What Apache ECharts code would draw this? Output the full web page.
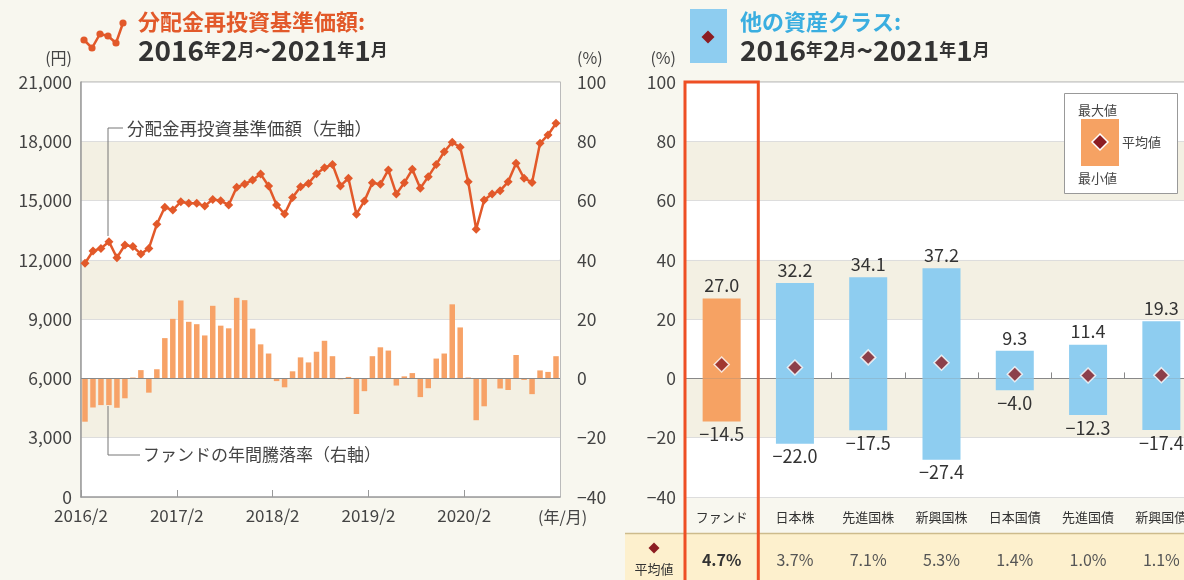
<!DOCTYPE html>
<html><head><meta charset="utf-8">
<script src="https://cdn.jsdelivr.net/npm/echarts@6/dist/echarts.min.js"></script>
<style>html,body{margin:0;padding:0;background:#f8f7ef;}#c{width:1184px;height:580px;}</style>
</head><body><div id="c"></div>
<script>
const FONT = "'Noto Sans CJK JP','Noto Sans',sans-serif";

// ---- Left chart data ----
const navValues = [
  11830, 12450, 12580, 12920, 12110, 12750, 12670, 12300, 12580, 13800,
  14660, 14520, 14940, 14860, 14860, 14730, 15060, 14990, 14780, 15670,
  15840, 16040, 16340, 15740, 14780, 14320, 15160, 15700, 15870, 16360,
  16660, 16830, 15740, 16130, 14310, 14980, 15900, 15820, 16550, 15330,
  15900, 16580, 15620, 16210, 16830, 17470, 17950, 17700, 15950, 13550,
  15030, 15330, 15500, 15950, 16890, 16130, 15920, 17900, 18320, 18910
];
const annualReturns = [
  -14.6, -9.8, -9.0, -9.0, -9.9, -6.7, 0.3, 2.8, -4.8, 3.1,
  13.6, 20.1, 26.3, 19.1, 18.3, 14.5, 24.5, 17.8, 16.9, 27.2,
  26.4, 16.8, 11.5, 8.4, -0.9, -3.0, 2.4, 7.1, 5.4, 9.0,
  12.7, 7.5, -0.3, 0.5, -12.0, -4.3, 7.5, 10.5, 9.4, -2.4,
  0.7, 1.8, -6.3, -3.3, 6.7, 8.4, 25.0, 17.2, 0.3, -14.1,
  -9.4, 0.0, -3.4, -3.9, 7.9, -0.5, -5.3, 2.7, 2.2, 7.5
];
const xTickLabels = ['2016/2', '2017/2', '2018/2', '2019/2', '2020/2'];

// ---- Right chart data ----
const assetClasses = ['ファンド', '日本株', '先進国株', '新興国株', '日本国債', '先進国債', '新興国債'];
const maxValues = [27.0, 32.2, 34.1, 37.2, 9.3, 11.4, 19.3];
const minValues = [-14.5, -22.0, -17.5, -27.4, -4.0, -12.3, -17.4];
const avgValues = [4.7, 3.7, 7.1, 5.3, 1.4, 1.0, 1.1];

const months = [];
{ let yy = 2016, mm = 2; for (let i = 0; i < navValues.length; i++) { months.push(yy + '/' + mm); mm++; if (mm > 12) { mm = 1; yy++; } } }

const minus = v => (v < 0 ? '−' : '') + Math.abs(v);
const fmt1 = v => (v < 0 ? '−' : '') + Math.abs(v).toFixed(1);
const BAND = '#f3f0e3';
const ORANGE_BAR = '#f7a267';
const BLUE_BAR = '#8ecdf0';
const LINE_COL = '#e2592a';
const DIA = '#8c1d22';

const chart = echarts.init(document.getElementById('c'), null, { renderer: 'canvas' });

function diamondPts(cx, cy, r) { return [[cx, cy - r], [cx + r, cy], [cx, cy + r], [cx - r, cy]]; }

const iconPts = [[84, 40], [92, 48], [100, 34], [108, 36], [116, 43], [123, 23]];

const titleRich = {
  d: { fontSize: 28, fontWeight: 'bold', fill: '#333', fontFamily: FONT },
  s: { fontSize: 17, fontWeight: 'bold', fill: '#333', fontFamily: FONT }
};
const titleText = '{d|2016}{s|年}{d|2}{s|月}{d|~2021}{s|年}{d|1}{s|月}';

const baseGraphic = [
  { type: 'polyline', shape: { points: iconPts }, style: { stroke: LINE_COL, lineWidth: 2.5, fill: null }, z: 10 },
  ...iconPts.map(p => ({ type: 'circle', shape: { cx: p[0], cy: p[1], r: 3.6 }, style: { fill: LINE_COL }, z: 10 })),
  { type: 'text', x: 138, y: 22, style: { text: '分配金再投資基準価額:', fontSize: 22, fontWeight: 'bold', fill: '#e2592a', fontFamily: FONT, verticalAlign: 'middle' }, z: 10 },
  { type: 'text', x: 138, y: 50, style: { text: titleText, rich: titleRich, verticalAlign: 'middle' }, z: 10 },
  { type: 'rect', shape: { x: 690, y: 9, width: 37, height: 54 }, style: { fill: BLUE_BAR }, z: 10 },
  { type: 'polygon', shape: { points: diamondPts(708, 37, 6.5) }, style: { fill: DIA }, z: 11 },
  { type: 'text', x: 740, y: 22, style: { text: '他の資産クラス:', fontSize: 22, fontWeight: 'bold', fill: '#3aaee0', fontFamily: FONT, verticalAlign: 'middle' }, z: 10 },
  { type: 'text', x: 740, y: 50, style: { text: titleText, rich: titleRich, verticalAlign: 'middle' }, z: 10 },
  { type: 'text', x: 72, y: 58, style: { text: '(円)', fontSize: 16, fill: '#444', fontFamily: FONT, align: 'right', verticalAlign: 'middle' }, z: 10 },
  { type: 'text', x: 577, y: 58, style: { text: '(%)', fontSize: 16, fill: '#444', fontFamily: FONT, align: 'left', verticalAlign: 'middle' }, z: 10 },
  { type: 'text', x: 676, y: 58, style: { text: '(%)', fontSize: 16, fill: '#444', fontFamily: FONT, align: 'right', verticalAlign: 'middle' }, z: 10 },
  { type: 'text', x: 538, y: 517, style: { text: '(年/月)', fontSize: 16, fill: '#444', fontFamily: FONT, align: 'left', verticalAlign: 'middle' }, z: 10 },
  { type: 'polyline', shape: { points: [[123, 128], [108, 128], [108, 236]] }, style: { stroke: '#777', lineWidth: 1, fill: null }, z: 10 },
  { type: 'text', x: 127, y: 128, style: { text: '分配金再投資基準価額（左軸）', fontSize: 17.5, fill: '#444', fontFamily: FONT, verticalAlign: 'middle' }, z: 10 },
  { type: 'polyline', shape: { points: [[108, 406], [108, 455], [140, 455]] }, style: { stroke: '#777', lineWidth: 1, fill: null }, z: 10 },
  { type: 'text', x: 143, y: 455, style: { text: 'ファンドの年間騰落率（右軸）', fontSize: 17, fill: '#444', fontFamily: FONT, verticalAlign: 'middle' }, z: 10 },
  { type: 'rect', shape: { x: 1064.5, y: 93.5, width: 113, height: 100 }, style: { fill: '#fff', stroke: '#999', lineWidth: 1 }, z: 10 },
  { type: 'text', x: 1078, y: 110, style: { text: '最大値', fontSize: 13, fill: '#444', fontFamily: FONT, verticalAlign: 'middle' }, z: 11 },
  { type: 'rect', shape: { x: 1081, y: 119, width: 38, height: 47 }, style: { fill: '#f6a263' }, z: 11 },
  { type: 'polygon', shape: { points: diamondPts(1100, 142, 8) }, style: { fill: DIA, stroke: '#fff', lineWidth: 1.5 }, z: 12 },
  { type: 'text', x: 1122, y: 142, style: { text: '平均値', fontSize: 13, fill: '#444', fontFamily: FONT, verticalAlign: 'middle' }, z: 11 },
  { type: 'text', x: 1078, y: 178, style: { text: '最小値', fontSize: 13, fill: '#444', fontFamily: FONT, verticalAlign: 'middle' }, z: 11 },
  { type: 'rect', shape: { x: 625, y: 533, width: 560, height: 48 }, style: { fill: '#fdf0cd' }, z: 0 },
  { type: 'line', shape: { x1: 625, y1: 533.5, x2: 1184, y2: 533.5 }, style: { stroke: '#cdbb8c', lineWidth: 1.5 }, z: 1 },
  { type: 'polygon', shape: { points: diamondPts(654, 548, 5.5) }, style: { fill: DIA }, z: 2 },
  { type: 'text', x: 654, y: 569, style: { text: '平均値', fontSize: 13, fill: '#333', fontFamily: FONT, align: 'center', verticalAlign: 'middle' }, z: 2 }
];

const option = {
  backgroundColor: '#f8f7ef',
  animation: false,
  textStyle: { fontFamily: FONT },
  grid: [
    { left: 81, top: 82, width: 479, height: 415, show: true, backgroundColor: '#fff', borderColor: '#aaa', borderWidth: 1, outerBoundsMode: 'none' },
    { left: 685, top: 82, width: 513, height: 415, show: true, backgroundColor: '#fff', borderColor: '#aaa', borderWidth: 1, outerBoundsMode: 'none' }
  ],
  xAxis: [
    { type: 'category', gridIndex: 0, data: months, boundaryGap: true, show: false },
    { type: 'value', gridIndex: 0, min: 0, max: 60, interval: 12, position: 'bottom',
      axisLine: { show: true, onZero: false, lineStyle: { color: '#999', width: 1.5 } },
      axisTick: { show: true, inside: true, length: 7, lineStyle: { color: '#999' } },
      splitLine: { show: false },
      axisLabel: { margin: 10, fontSize: 17, color: '#444', formatter: v => xTickLabels[v / 12] || '', showMaxLabel: false } },
    { type: 'category', gridIndex: 1, data: assetClasses, position: 'bottom',
      axisLine: { show: false, onZero: false }, axisTick: { show: false },
      axisLabel: { margin: 14, fontSize: 13, color: '#333', interval: 0 } },
    { type: 'category', gridIndex: 1, data: assetClasses, position: 'bottom',
      axisLine: { show: true, onZero: true, lineStyle: { color: '#888', width: 1.2 } },
      axisTick: { show: true, inside: true, length: 6, interval: 0, lineStyle: { color: '#888' } },
      axisLabel: { show: false } },
    { type: 'category', gridIndex: 1, data: assetClasses, position: 'bottom', offset: 47,
      axisLine: { show: false, onZero: false }, axisTick: { show: false },
      axisLabel: { margin: 8, fontSize: 16, color: '#555', interval: 0,
        formatter: (v, i) => i === 0 ? '{b|' + avgValues[i].toFixed(1) + '%}' : avgValues[i].toFixed(1) + '%',
        rich: { b: { fontSize: 16, color: '#333', fontWeight: 'bold' } } } }
  ],
  yAxis: [
    { type: 'value', gridIndex: 0, min: 0, max: 21000, interval: 3000, position: 'left',
      axisLine: { show: true, lineStyle: { color: '#999', width: 1.5 } }, axisTick: { show: false },
      axisLabel: { margin: 9, fontSize: 17.5, color: '#444', formatter: v => v.toLocaleString('en-US') },
      splitLine: { show: true, lineStyle: { color: '#ddd' } },
      splitArea: { show: true, areaStyle: { color: ['#ffffff', BAND] } } },
    { type: 'value', gridIndex: 0, min: -40, max: 100, interval: 20, position: 'right',
      axisLine: { show: true, lineStyle: { color: '#bbb' } }, axisTick: { show: false },
      axisLabel: { margin: 17, fontSize: 17.5, color: '#444', formatter: minus },
      splitLine: { show: false } },
    { type: 'value', gridIndex: 1, min: -40, max: 100, interval: 20, position: 'left',
      axisLine: { show: true, lineStyle: { color: '#999', width: 1.5 } }, axisTick: { show: false },
      axisLabel: { margin: 9, fontSize: 17.5, color: '#444', formatter: minus },
      splitLine: { show: true, lineStyle: { color: '#ddd' } },
      splitArea: { show: true, areaStyle: { color: ['#ffffff', BAND] } } }
  ],
  series: [
    { type: 'bar', xAxisIndex: 0, yAxisIndex: 1, data: annualReturns, barWidth: 5.5,
      itemStyle: { color: ORANGE_BAR }, z: 2,
      markLine: { silent: true, symbol: 'none', label: { show: false },
        lineStyle: { color: '#888', width: 1.2, type: 'solid' }, data: [{ yAxis: 0 }] } },
    { type: 'line', xAxisIndex: 0, yAxisIndex: 0, data: navValues, symbol: 'diamond', symbolSize: 9,
      showSymbol: true, showAllSymbol: true,
      lineStyle: { color: LINE_COL, width: 2.5 }, itemStyle: { color: LINE_COL }, z: 5 },
    { type: 'bar', xAxisIndex: 2, yAxisIndex: 2, barWidth: 38, barGap: '-100%',
      data: maxValues.map((v, i) => ({ value: v, itemStyle: { color: i === 0 ? '#f6a263' : BLUE_BAR } })),
      label: { show: true, position: 'top', distance: 4, fontSize: 18, color: '#333', formatter: p => fmt1(p.value) }, z: 3 },
    { type: 'bar', xAxisIndex: 2, yAxisIndex: 2, barWidth: 38, barGap: '-100%',
      data: minValues.map((v, i) => ({ value: v, itemStyle: { color: i === 0 ? '#f6a263' : BLUE_BAR } })),
      label: { show: true, position: 'bottom', distance: 4, fontSize: 18, color: '#333', formatter: p => fmt1(p.value) }, z: 3 },
    { type: 'scatter', xAxisIndex: 2, yAxisIndex: 2, data: avgValues, symbol: 'diamond', symbolSize: 15,
      itemStyle: { color: DIA, borderColor: '#fff', borderWidth: 1.5 }, z: 6 }
  ],
  graphic: baseGraphic
};
chart.setOption(option);

const c0 = chart.convertToPixel({ xAxisIndex: 2 }, 0);
const c1 = chart.convertToPixel({ xAxisIndex: 2 }, 1);
const bandW = c1 - c0;
const frameTop = chart.convertToPixel({ yAxisIndex: 2 }, 100);
chart.setOption({ graphic: baseGraphic.concat([
  { type: 'rect', shape: { x: c0 - bandW / 2, y: frameTop, width: bandW, height: 600 },
    style: { fill: null, stroke: '#ee4f24', lineWidth: 3 }, z: 20 }
]) });
</script></body></html>
